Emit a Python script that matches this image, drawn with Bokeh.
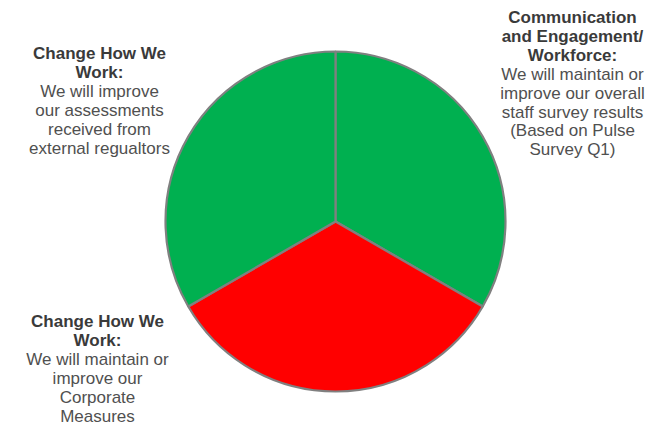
import numpy as np
from bokeh.plotting import figure
from bokeh.models import ColumnDataSource, Range1d
from bokeh.core.properties import value
from bokeh.embed import file_html
from bokeh.resources import INLINE

# ---- data ----
segments = ["Communication and Engagement/Workforce", "Corporate Measures", "External Regulators"]
shares = [1, 1, 1]
statuses = ["green", "red", "green"]

title_tr = ["Communication", "and Engagement/", "Workforce:"]
body_tr = ["We will maintain or", "improve our overall", "staff survey results", "(Based on Pulse", "Survey Q1)"]
title_tl = ["Change How We", "Work:"]
body_tl = ["We will improve", "our assessments", "received from", "external regualtors"]
title_bl = ["Change How We", "Work:"]
body_bl = ["We will maintain or", "improve our", "Corporate", "Measures"]

# ---- layout / style ----
W, H = 651, 424
cx, cy_screen, R = 335, 221, 170
color_map = {"green": "#00B050", "red": "#FF0000"}

total = float(sum(shares))
cum = np.cumsum([0] + shares) / total
start = np.pi / 2 - 2 * np.pi * cum[:-1]
end = np.pi / 2 - 2 * np.pi * cum[1:]

src = ColumnDataSource(dict(
    seg=segments,
    start=start,
    end=end,
    color=[color_map[s] for s in statuses],
))

p = figure(width=W, height=H, output_backend="svg", toolbar_location=None,
           x_range=Range1d(0, W), y_range=Range1d(0, H), min_border=0)
p.axis.visible = False
p.grid.visible = False
p.outline_line_color = None
p.background_fill_color = "white"
p.border_fill_color = "white"

p.wedge(x=cx, y=H - cy_screen, radius=R, start_angle="start", end_angle="end",
        direction="clock", fill_color="color", line_color="#808080", line_width=2.2,
        source=src)

FONT = value("Arial")
FS = "17px"
LH = 18.9


def block(title, body, x, y_top):
    lines = [(t, "bold", "#3A3A3A") for t in title] + [(b, "normal", "#505050") for b in body]
    xs, ys, txt, styles, cols = [], [], [], [], []
    for i, (t, st, c) in enumerate(lines):
        xs.append(x)
        ys.append(H - (y_top + i * LH))
        txt.append(t)
        styles.append(st)
        cols.append(c)
    s = ColumnDataSource(dict(x=xs, y=ys, text=txt, style=styles, col=cols))
    p.text(x="x", y="y", text="text", source=s, text_font=FONT, text_font_size=FS,
           text_font_style="style", text_color="col", text_align="center",
           text_baseline="middle")


block(title_tr, body_tr, 572, 17)
block(title_tl, body_tl, 99, 53)
block(title_bl, body_bl, 97, 321)

open("out.html", "w").write(file_html(p, INLINE))
